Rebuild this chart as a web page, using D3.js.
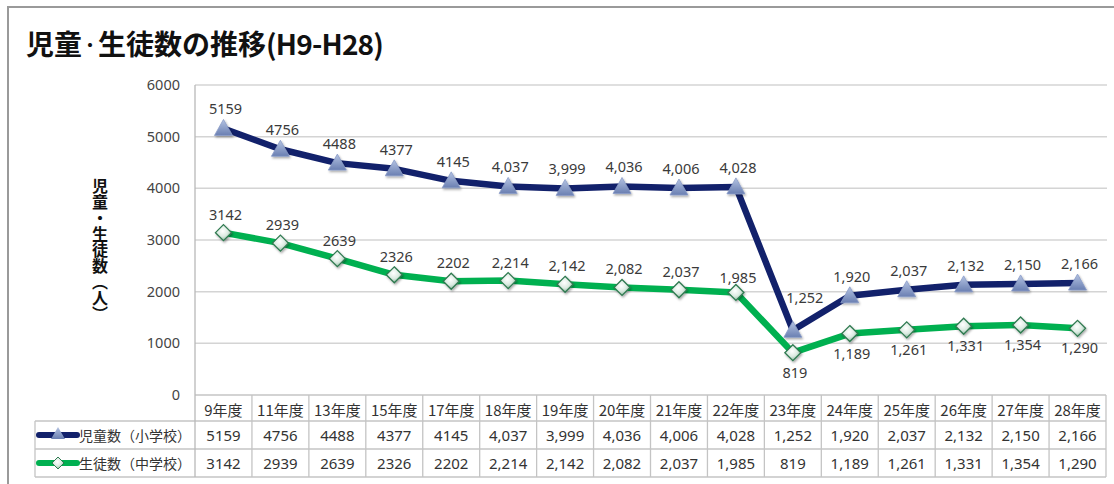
<!DOCTYPE html>
<html>
<head>
<meta charset="utf-8">
<script src="https://cdn.jsdelivr.net/npm/d3@7"></script>
<style>
  html, body { margin: 0; padding: 0; background: #fff; }
  svg { display: block; }
</style>
</head>
<body>
<svg id="chart" width="1114" height="484"></svg>
<script>
// Fiscal years (Heisei) shown along the category axis
const categories = ["9年度", "11年度", "13年度", "15年度", "17年度", "18年度", "19年度", "20年度",
  "21年度", "22年度", "23年度", "24年度", "25年度", "26年度", "27年度", "28年度"];

// Elementary school pupils
const elementary = [5159, 4756, 4488, 4377, 4145, 4037, 3999, 4036, 4006, 4028, 1252, 1920, 2037, 2132, 2150, 2166];
// Junior high school students
const juniorHigh = [3142, 2939, 2639, 2326, 2202, 2214, 2142, 2082, 2037, 1985, 819, 1189, 1261, 1331, 1354, 1290];

const yTicks = [0, 1000, 2000, 3000, 4000, 5000, 6000];
const seriesNames = ["児童数（小学校）", "生徒数（中学校）"];

// Figures from FY18 onward are written with thousands separators
const fmt = (v, i) => i >= 5 ? d3.format(",")(v) : String(v);

const svg = d3.select("#chart");
const FONT = "'Noto Sans', 'Noto Sans CJK JP', sans-serif";
const CJK = "'Noto Sans CJK JP', 'Noto Sans', sans-serif";

const plotLeft = 195, plotRight = 1106, plotTop = 85, plotBottom = 395;
const x = d3.scaleBand().domain(categories).range([plotLeft, plotRight]);
const y = d3.scaleLinear().domain([0, 6000]).range([plotBottom, plotTop]);
const cx = c => x(c) + x.bandwidth() / 2;

// gradients for markers
const defs = svg.append("defs");
const tri = defs.append("linearGradient").attr("id", "triGrad").attr("x1", 0).attr("y1", 0).attr("x2", 0).attr("y2", 1);
tri.append("stop").attr("offset", "0%").attr("stop-color", "#b4c3e2");
tri.append("stop").attr("offset", "100%").attr("stop-color", "#6a7fb2");
const dia = defs.append("radialGradient").attr("id", "diaGrad").attr("cx", "45%").attr("cy", "40%").attr("r", "60%");
dia.append("stop").attr("offset", "0%").attr("stop-color", "#ffffff");
dia.append("stop").attr("offset", "55%").attr("stop-color", "#dcebe2");
dia.append("stop").attr("offset", "100%").attr("stop-color", "#8fbba1");
const shadow = defs.append("filter").attr("id", "shadow").attr("x", "-50%").attr("y", "-50%").attr("width", "200%").attr("height", "200%");
shadow.append("feDropShadow").attr("dx", 1).attr("dy", 1.5).attr("stdDeviation", 1).attr("flood-color", "#000").attr("flood-opacity", 0.35);

// Outer frame
svg.append("rect").attr("x", 8).attr("y", 7).attr("width", 1130).attr("height", 500)
  .attr("fill", "none").attr("stroke", "#9a9a9a").attr("stroke-width", 2);

// Title (the middle dot is set at a smaller size so it sits tight)
const title = svg.append("text").attr("x", 26).attr("y", 55)
  .attr("font-family", CJK).attr("font-weight", "bold").attr("font-size", 28).attr("fill", "#111");
title.append("tspan").text("児童");
title.append("tspan").attr("font-size", 16).attr("dy", -4.5).text("・");
title.append("tspan").attr("dy", 4.5).text("生徒数の推移");
title.append("tspan").attr("letter-spacing", -0.8).text("(H9-H28)");

// Gridlines
svg.append("g").selectAll("line").data(yTicks.filter(d => d > 0)).join("line")
  .attr("x1", plotLeft).attr("x2", plotRight + 1)
  .attr("y1", d => y(d)).attr("y2", d => y(d))
  .attr("stroke", "#d4d4d4").attr("stroke-width", 1.5);

// Y axis labels
const yAxis = d3.axisLeft(y).tickValues(yTicks).tickSize(0).tickPadding(15).tickFormat(d3.format("d"));
const gy = svg.append("g").attr("transform", `translate(${plotLeft},0)`).call(yAxis);
gy.select(".domain").remove();
gy.selectAll("text").attr("font-family", FONT).attr("font-size", 14.5).attr("fill", "#444");

// Y axis title, vertical writing
svg.append("text")
  .attr("x", 100).attr("y", 178)
  .attr("font-family", CJK).attr("font-weight", "bold").attr("font-size", 16).attr("fill", "#111")
  .style("writing-mode", "vertical-rl")
  .text("児童・生徒数（人）");

// Lines
const line = vals => d3.line().x((d, i) => cx(categories[i])).y(d => y(d))(vals);
svg.append("path").attr("d", line(juniorHigh)).attr("fill", "none")
  .attr("stroke", "#00b050").attr("stroke-width", 6.5).attr("stroke-linejoin", "round");
svg.append("path").attr("d", line(elementary)).attr("fill", "none")
  .attr("stroke", "#12216b").attr("stroke-width", 6.5).attr("stroke-linejoin", "round");

const triPath = "M0,-9 L9,7 L-9,7 Z";
const diaPath = "M0,-8 L8,0 L0,8 L-8,0 Z";

svg.append("g").selectAll("path").data(juniorHigh).join("path")
  .attr("transform", (d, i) => `translate(${cx(categories[i])},${y(d)})`)
  .attr("d", diaPath).attr("fill", "url(#diaGrad)").attr("stroke", "#2f7a50").attr("stroke-width", 1.3)
  .attr("filter", "url(#shadow)");
svg.append("g").selectAll("path").data(elementary).join("path")
  .attr("transform", (d, i) => `translate(${cx(categories[i])},${y(d)})`)
  .attr("d", triPath).attr("fill", "url(#triGrad)").attr("stroke", "#8a9cc8").attr("stroke-width", 0.8)
  .attr("filter", "url(#shadow)");

// Data labels
const labelG = svg.append("g").attr("font-family", FONT).attr("font-size", 14.5).attr("fill", "#3a3a3a")
  .attr("text-anchor", "middle").attr("dominant-baseline", "central");
labelG.selectAll("text.el").data(elementary).join("text").attr("class", "el")
  .attr("x", (d, i) => cx(categories[i]) + (i === 10 ? 12 : 2))
  .attr("y", (d, i) => y(d) - (i === 10 ? 33 : 20))
  .text((d, i) => fmt(d, i));
labelG.selectAll("text.jh").data(juniorHigh).join("text").attr("class", "jh")
  .attr("x", (d, i) => cx(categories[i]) + 2)
  .attr("y", (d, i) => i >= 10 ? y(d) + 19 : y(d) - (i === 9 ? 15 : 19))
  .text((d, i) => fmt(d, i));

// Data table
const rowTop = 395, headH = 26, rowH = 28, legendLeft = 35;
const rows = [elementary, juniorHigh];
const tableBottom = rowTop + headH + rowH * 2;
const tg = svg.append("g").attr("stroke", "#c4c4c4").attr("stroke-width", 1.3);
// horizontal rules
tg.append("line").attr("x1", plotLeft).attr("x2", plotRight).attr("y1", rowTop).attr("y2", rowTop);
[0, 1, 2].forEach(k => {
  const yy = rowTop + headH + rowH * k;
  tg.append("line").attr("x1", legendLeft).attr("x2", plotRight).attr("y1", yy).attr("y2", yy);
});
// vertical rules
tg.selectAll("line.v").data(categories).join("line").attr("class", "v")
  .attr("x1", d => x(d) + x.bandwidth()).attr("x2", d => x(d) + x.bandwidth())
  .attr("y1", rowTop).attr("y2", tableBottom);
tg.append("line").attr("x1", legendLeft).attr("x2", legendLeft).attr("y1", rowTop + headH).attr("y2", tableBottom);
// value axis line continues into the table
svg.append("line").attr("x1", plotLeft).attr("x2", plotLeft).attr("y1", plotTop).attr("y2", tableBottom)
  .attr("stroke", "#b8b8b8").attr("stroke-width", 1.3);

const textG = svg.append("g").attr("font-family", FONT).attr("font-size", 15).attr("fill", "#333")
  .attr("text-anchor", "middle").attr("dominant-baseline", "central");
textG.selectAll("text.h").data(categories).join("text").attr("class", "h")
  .attr("x", d => cx(d)).attr("y", rowTop + headH / 2 + 1)
  .attr("font-family", CJK).text(d => d);
rows.forEach((vals, r) => {
  textG.selectAll(`text.r${r}`).data(vals).join("text").attr("class", `r${r}`)
    .attr("x", (d, i) => cx(categories[i])).attr("y", rowTop + headH + rowH * r + rowH / 2)
    .text((d, i) => fmt(d, i));
});

// Legend keys in the table
const keyColors = ["#12216b", "#00b050"];
rows.forEach((vals, r) => {
  const ky = rowTop + headH + rowH * r + rowH / 2;
  svg.append("line").attr("x1", 39).attr("x2", 77).attr("y1", ky).attr("y2", ky)
    .attr("stroke", keyColors[r]).attr("stroke-width", 6).attr("stroke-linecap", "round");
  if (r === 0) {
    svg.append("path").attr("transform", `translate(58,${ky - 1})`).attr("d", "M0,-7 L7,5 L-7,5 Z")
      .attr("fill", "url(#triGrad)");
  } else {
    svg.append("path").attr("transform", `translate(58,${ky})`).attr("d", "M0,-6 L6,0 L0,6 L-6,0 Z")
      .attr("fill", "url(#diaGrad)").attr("stroke", "#2f7a50").attr("stroke-width", 1);
  }
  svg.append("text").attr("x", 79).attr("y", ky).attr("dominant-baseline", "central")
    .attr("font-family", CJK).attr("font-size", 14).attr("fill", "#333")
    .text(seriesNames[r]);
});
</script>
</body>
</html>
